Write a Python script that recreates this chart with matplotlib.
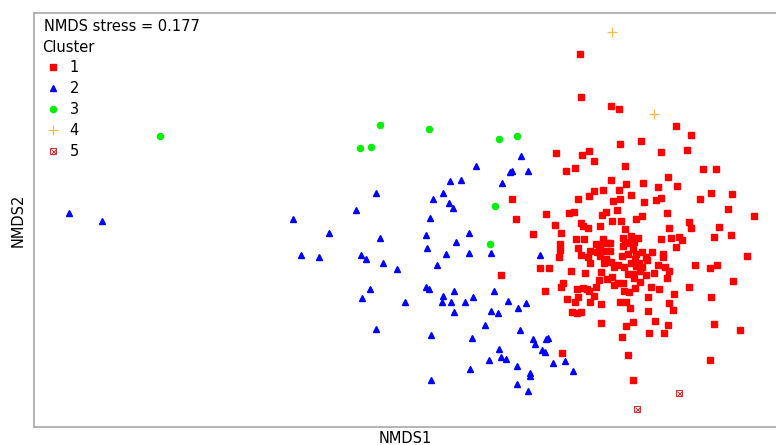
import numpy as np
import matplotlib
matplotlib.use("Agg")
import matplotlib.pyplot as plt
from matplotlib.lines import Line2D
from matplotlib.legend_handler import HandlerTuple

# NMDS site scores (arbitrary units, axis 2 points down)
c1_x = [580, 581, 611, 619, 676, 691, 641, 620, 556, 582, 589, 594, 661, 687, 625, 575, 703, 716, 566,
        611, 626, 643, 668, 658, 677, 594, 589, 603, 619, 631, 620, 613, 578, 656, 661, 644, 512, 711, 732,
        700, 728, 754, 617, 606, 602, 569, 574, 546, 667, 642, 636, 621, 612, 516, 689, 691, 719, 581, 583,
        588, 600, 555, 625, 669, 561, 533, 631, 638, 714, 731, 679, 671, 682, 661, 576, 584, 603, 607, 610,
        623, 625, 629, 634, 633, 560, 596, 676, 600, 560, 578, 590, 599, 606, 610, 623, 642, 652, 663, 663,
        581, 559, 588, 597, 600, 606, 622, 628, 636, 646, 647, 635, 590, 604, 611, 618, 624, 631, 636, 639,
        642, 658, 665, 540, 549, 571, 585, 601, 614, 628, 633, 640, 646, 654, 669, 695, 710, 717, 747, 501,
        599, 607, 612, 634, 667, 563, 561, 618, 614, 623, 640, 651, 659, 577, 583, 587, 589, 596, 624, 629,
        635, 545, 689, 733, 674, 711, 648, 578, 594, 567, 575, 572, 577, 581, 590, 601, 620, 626, 630, 648,
        669, 673, 601, 633, 626, 655, 668, 649, 664, 622, 714, 740, 562, 628, 710, 633]
c1_y = [54, 97, 106, 109, 126, 135, 141, 144, 153, 155, 151, 161, 152, 150, 166, 168, 169, 169, 171,
        180, 184, 183, 177, 187, 186, 191, 196, 190, 190, 195, 199, 201, 199, 200, 198, 202, 199, 193, 194,
        199, 209, 216, 210, 212, 215, 213, 212, 214, 213, 216, 219, 221, 221, 219, 222, 228, 227, 223, 226,
        228, 226, 225, 229, 228, 233, 234, 236, 238, 237, 235, 237, 238, 240, 239, 239, 239, 239, 243, 243,
        238, 242, 243, 242, 249, 244, 244, 247, 246, 250, 248, 251, 251, 251, 251, 246, 252, 252, 254, 257,
        255, 257, 257, 252, 256, 259, 256, 254, 254, 257, 260, 259, 263, 263, 262, 265, 267, 263, 266, 263,
        267, 265, 267, 268, 268, 271, 273, 272, 267, 274, 274, 271, 275, 273, 271, 265, 268, 265, 256, 275,
        280, 279, 277, 278, 278, 283, 287, 283, 285, 283, 282, 287, 289, 289, 288, 289, 291, 287, 291, 292,
        288, 291, 287, 281, 294, 297, 297, 297, 296, 299, 302, 312, 313, 312, 302, 304, 302, 302, 308, 311,
        303, 310, 323, 322, 326, 321, 325, 333, 333, 337, 324, 330, 353, 355, 360, 380]

c2_x = [69, 102, 293, 329, 301, 319, 356, 376, 380, 361, 366, 476, 450, 461, 443, 433, 449, 453, 430, 426,
        427, 456, 469, 446, 469, 491, 521, 510, 512, 528, 502, 540, 383, 397, 437, 370, 362, 405, 426, 429,
        443, 454, 442, 451, 465, 473, 494, 454, 491, 498, 508, 518, 526, 485, 520, 376, 431, 472, 499, 489,
        501, 506, 517, 470, 431, 517, 530, 530, 528, 533, 535, 546, 548, 542, 545, 553, 565, 573]
c2_y = [213, 221, 219, 233, 255, 257, 210, 193, 238, 255, 259, 166, 181, 180, 193, 199, 203, 208, 218, 235,
        248, 242, 233, 254, 253, 253, 156, 172, 171, 171, 183, 255, 263, 269, 265, 289, 298, 302, 287, 289,
        296, 291, 302, 302, 302, 297, 291, 312, 311, 313, 301, 308, 303, 325, 330, 329, 335, 338, 349, 360,
        357, 359, 366, 369, 380, 384, 373, 376, 391, 339, 344, 339, 338, 350, 352, 363, 361, 371]

c3_x = [160, 380, 429, 360, 371, 499, 517, 495, 490]
c3_y = [136, 125, 129, 148, 147, 139, 136, 206, 244]

c4_x = [612, 654]
c4_y = [32, 114]

c5_x = [679, 637]
c5_y = [393, 409]

stress = 0.177

fig = plt.figure(figsize=(7.76, 4.45), dpi=100)
ax = fig.add_axes([34 / 776, 18 / 445, 1 - 34 / 776, 414 / 445])

ax.plot(c1_x, c1_y, ls="none", marker="s", ms=4.4, color="#FF0000", mec="#FF0000")
ax.plot(c2_x, c2_y, ls="none", marker="^", ms=5, color="#0000FF")
ax.plot(c3_x, c3_y, ls="none", marker="o", ms=4.4, color="#00EE00")
ax.plot(c4_x, c4_y, ls="none", marker="+", ms=7, mew=0.9, color="#FFB84D")
ax.plot(c5_x, c5_y, ls="none", marker="s", ms=4.6, mfc="none", mec="#CC3333", mew=0.8)
ax.plot(c5_x, c5_y, ls="none", marker="x", ms=3.6, mew=0.7, color="#CC3333")

ax.set_xlim(34, 776)
ax.set_ylim(427, 13)
ax.set_xticks([])
ax.set_yticks([])
for side in ["left", "top", "bottom"]:
    ax.spines[side].set_color("#A8A8A8")
    ax.spines[side].set_linewidth(1.2)
ax.spines["right"].set_visible(False)

ax.set_xlabel("NMDS1", fontsize=10.5, labelpad=3)
ax.set_ylabel("NMDS2", fontsize=10.5, labelpad=6)

ax.text(0.014, 0.985, "NMDS stress = %.3f" % stress, transform=ax.transAxes,
        fontsize=10.5, va="top", ha="left")

box5 = Line2D([], [], ls="none", marker="s", ms=4.6, mfc="none", mec="#CC3333", mew=0.8)
x5 = Line2D([], [], ls="none", marker="x", ms=3.6, mew=0.7, color="#CC3333")
handles = [
    Line2D([], [], ls="none", marker="s", ms=4.4, color="#FF0000"),
    Line2D([], [], ls="none", marker="^", ms=5, color="#0000FF"),
    Line2D([], [], ls="none", marker="o", ms=4.4, color="#00EE00"),
    Line2D([], [], ls="none", marker="+", ms=7, mew=0.9, color="#FFB84D"),
    (box5, x5),
]
leg = ax.legend(handles, ["1", "2", "3", "4", "5"], title="Cluster", loc="upper left",
                bbox_to_anchor=(0.003, 0.95), frameon=False, fontsize=10.5,
                title_fontsize=10.5, labelspacing=0.4, handlelength=1.5,
                handletextpad=0.4, alignment="left", borderaxespad=0,
                handler_map={tuple: HandlerTuple(ndivide=1, pad=0)})

fig.savefig("out.png", dpi=100)
